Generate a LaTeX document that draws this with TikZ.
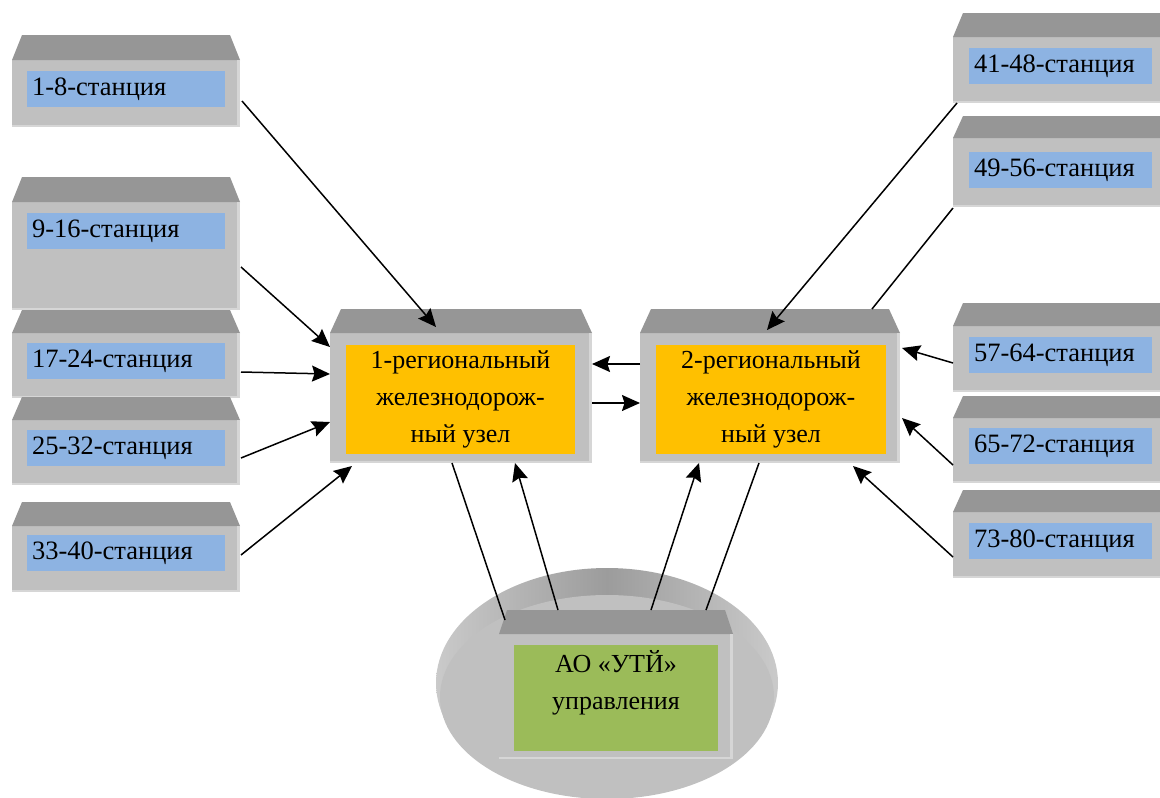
\documentclass[tikz,border=0pt]{standalone}
\usepackage{fontspec}
\setmainfont{Liberation Serif}
\usetikzlibrary{arrows.meta,calc}

\definecolor{roofgray}{HTML}{969696}
\definecolor{frontgray}{HTML}{C0C0C0}
\definecolor{edgegray}{HTML}{D6D6D6}
\definecolor{stblue}{HTML}{8DB3E2}
\definecolor{huborange}{HTML}{FFC000}
\definecolor{aogreen}{HTML}{9BBB59}
\definecolor{rimlight}{HTML}{CACACA}
\definecolor{rimdark}{HTML}{9C9C9C}

\tikzset{
  front/.style={fill=frontgray, draw=none, inner sep=0pt, outer sep=0pt, anchor=north west},
  stlabel/.style={fill=stblue, anchor=north west, inner xsep=5pt, inner ysep=0pt,
    minimum height=36pt, outer sep=0pt, font=\fontsize{26.5}{30}\selectfont},
  panel/.style={anchor=north west, inner sep=0pt, outer sep=0pt},
  twoline/.style={align=center, font=\fontsize{26}{37}\selectfont},
  arr/.style={line width=1.5pt, -{Stealth[length=18pt,width=16pt,inset=2.5pt]}},
  link/.style={line width=1.5pt},
}

% box with a sloped roof: name, x, y of front top, width, height, roof height, roof inset
\newcommand\roofbox[7]{%
  \node[front, minimum width=#4pt, minimum height=#5pt] (#1) at (#2,#3) {};
  \fill[roofgray] (#1.north west) -- ($(#1.north west)+(#7,-#6)$)
    -- ($(#1.north east)+(-#7,-#6)$) -- (#1.north east) -- cycle;
  \fill[edgegray] ($(#1.north east)+(-3,0)$) rectangle (#1.south east);
  \fill[edgegray] ($(#1.south west)+(0,-2)$) rectangle (#1.south east);
}

\begin{document}
\begin{tikzpicture}[x=1pt,y=-1pt]
\useasboundingbox (0,0) rectangle (1160,798);

% base disc under the management box
\shade[left color=rimlight, right color=rimlight, middle color=rimdark]
  (607,683) ellipse [x radius=171, y radius=115];
\fill[frontgray] (607,697) ellipse [x radius=167, y radius=102];

% stations on the left
\roofbox{s1}{12}{60}{228}{67}{25}{10}
\node[stlabel, text width=188pt] (s1l) at (27,71) {1-8-станция};
\roofbox{s2}{12}{202}{228}{108}{25}{10}
\node[stlabel, text width=188pt] (s2l) at (27,213) {9-16-станция};
\roofbox{s3}{12}{333}{228}{65}{23}{10}
\node[stlabel, text width=188pt] (s3l) at (27,343) {17-24-станция};
\roofbox{s4}{12}{420}{228}{65}{23}{10}
\node[stlabel, text width=188pt] (s4l) at (27,430) {25-32-станция};
\roofbox{s5}{12}{526}{228}{66}{24}{10}
\node[stlabel, text width=188pt] (s5l) at (27,535) {33-40-станция};

% stations on the right
\roofbox{r1}{953}{37}{222}{66}{24}{10}
\node[stlabel, text width=173pt] (r1l) at (969,48) {41-48-станция};
\roofbox{r2}{953}{138}{222}{69}{22}{10}
\node[stlabel, text width=173pt] (r2l) at (969,152) {49-56-станция};
\roofbox{r3}{953}{326}{222}{66}{23}{10}
\node[stlabel, text width=173pt] (r3l) at (969,337) {57-64-станция};
\roofbox{r4}{953}{418}{222}{65}{22}{10}
\node[stlabel, text width=173pt] (r4l) at (969,428) {65-72-станция};
\roofbox{r5}{953}{512}{222}{66}{22}{10}
\node[stlabel, text width=173pt] (r5l) at (969,523) {73-80-станция};

% regional railway junctions
\roofbox{h1}{330}{333}{262}{130}{24}{11}
\node[panel, fill=huborange, minimum width=229pt, minimum height=109pt] (h1p) at (346,345) {};
\node[twoline] (h1t) at (h1p.center) {1-региональный\\железнодорож-\\ный узел};
\roofbox{h2}{640}{333}{260}{130}{24}{11}
\node[panel, fill=huborange, minimum width=230pt, minimum height=109pt] (h2p) at (656,345) {};
\node[twoline] (h2t) at (h2p.center) {2-региональный\\железнодорож-\\ный узел};

% links between stations, junctions and management
\draw[arr] ($(s1.north east)+(2,41)$) -- ($(h1.north west)+(106,-6)$);
\draw[arr] ($(s2.north east)+(1,65)$) -- ($(h1.north west)+(0,14)$);
\draw[arr] ($(s3.north east)+(1,39)$) -- ($(h1.north west)+(0,41)$);
\draw[arr] ($(s4.north east)+(1,38)$) -- ($(h1.north west)+(0,89)$);
\draw[arr] ($(s5.north east)+(1,29)$) -- ($(h1.south west)+(22,3)$);

\draw[arr] ($(h2.north west)+(0,31)$) -- ($(h1.north east)+(0,31)$);
\draw[arr] ($(h1.north east)+(0,70)$) -- ($(h2.north west)+(0,70)$);

\draw[arr] ($(r1.south west)+(4,0)$) -- ($(h2.north west)+(127,-3)$);
\draw[link] ($(r2.south west)+(0,1)$) -- ($(h2.north west)+(232,-24)$);
\draw[arr] ($(r3.north west)+(0,37)$) -- ($(h2.north east)+(2,15)$);
\draw[arr] ($(r4.north west)+(0,47)$) -- ($(h2.north east)+(2,85)$);
\draw[arr] ($(r5.north west)+(0,45)$) -- ($(h2.south west)+(213,3)$);

% management company
\roofbox{ao}{499}{634}{234}{125}{24}{8}
\node[panel, fill=aogreen, minimum width=204pt, minimum height=106pt] (aop) at (514,645) {};
\node[twoline] (aot) at (616,683) {АО «УТЙ»\\управления};

\draw[link] ($(h1.south west)+(122,0)$) -- ($(ao.north west)+(6,-14)$);
\draw[arr] ($(ao.north west)+(59,-24)$) -- ($(h1.south west)+(185,0)$);
\draw[arr] ($(ao.north west)+(152,-24)$) -- ($(h2.south west)+(59,0)$);
\draw[link] ($(h2.south west)+(119,0)$) -- ($(ao.north west)+(207,-24)$);
\end{tikzpicture}
\end{document}
